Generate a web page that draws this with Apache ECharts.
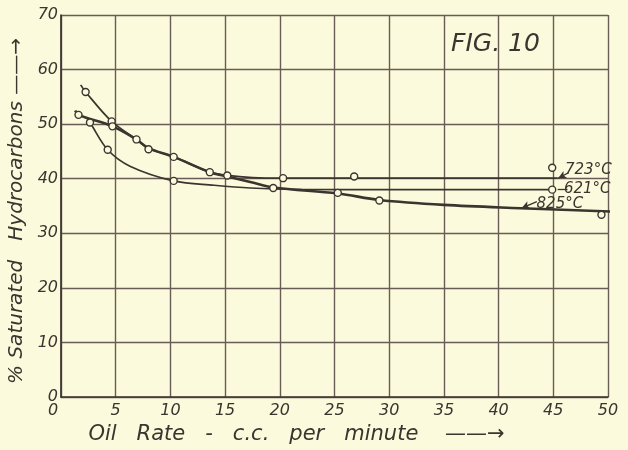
<!DOCTYPE html>
<html><head><meta charset="utf-8">
<script src="https://cdn.jsdelivr.net/npm/echarts@6/dist/echarts.min.js"></script>
<style>html,body{margin:0;padding:0;background:#fbfadc}#c{width:628px;height:450px}</style>
</head><body><div id="c"></div>
<script>
// ---- data ----
const xTickValues = [0,5,10,15,20,25,30,35,40,45,50];
const yTickValues = [0,10,20,30,40,50,60,70];
const seriesNames = ['723°C','621°C','825°C'];

const curve723 = [[1.8,57.2],[2.25,55.9],[4.63,50.5],[6.9,47.2],[8.0,45.6],[10.3,44.0],[13.6,41.2],[15.2,40.6],[17.5,40.2],[20.3,40.1],[30,40.1],[45.4,40.1]];
const points723 = [[2.25,55.9],[4.63,50.5],[6.9,47.2],[13.6,41.2],[20.3,40.1],[26.8,40.4],[44.9,42.0]];

const curve621 = [[2.4,50.9],[2.65,50.3],[4.27,45.3],[6.3,42.3],[10.3,39.6],[14,38.8],[17.3,38.3],[22,38.05],[30,38.0],[44.9,38.0]];
const points621 = [[2.65,50.3],[4.27,45.3],[10.3,39.6],[44.9,38.0]];

const curve825 = [[1.3,52.5],[1.6,51.7],[4.7,49.6],[6.9,47.2],[8.0,45.6],[10.3,44.0],[13.6,41.2],[15.2,40.4],[17.3,39.4],[19.4,38.4],[25.3,37.3],[29.1,36.1],[35,35.2],[42,34.6],[50.2,34.0]];
const points825 = [[1.6,51.7],[4.7,49.6],[8.0,45.4],[10.3,44.0],[15.2,40.6],[19.4,38.3],[25.3,37.4],[29.1,36.0],[49.4,33.4]];

// ---- styling ----
const ink = '#3b342f';
const gridInk = '#685d56';
const bg = '#fbfadc';
const font = 'DejaVu Sans';

function curveSeries(name, data, width, markPointCoord, markLineData, markLineSymbol) {
  return {
    name, type: 'line', data, smooth: 0.35, showSymbol: false, symbol: 'none',
    lineStyle: { color: ink, width }, z: 3, silent: true,
    markPoint: {
      symbol: 'circle', symbolSize: 0, silent: true,
      label: { show: true, position: 'inside', formatter: name, color: ink,
               fontFamily: font, fontStyle: 'italic', fontSize: 15 },
      data: [{ coord: markPointCoord }]
    },
    markLine: {
      silent: true, symbol: markLineSymbol, symbolSize: [6, 8],
      label: { show: false },
      lineStyle: { type: 'solid', color: ink, width: 1.3 },
      data: [markLineData]
    }
  };
}
function pointSeries(name, data) {
  return {
    name: name + ' pts', type: 'scatter', data, symbol: 'circle', symbolSize: 7,
    itemStyle: { color: bg, borderColor: ink, borderWidth: 1.4, opacity: 1 }, z: 5, silent: true
  };
}

const chart = echarts.init(document.getElementById('c'), null, { renderer: 'canvas' });
chart.setOption({
  backgroundColor: bg,
  animation: false,
  title: { text: 'FIG. 10', left: 446, top: 27,
           textStyle: { color: ink, fontFamily: font, fontStyle: 'italic', fontWeight: 'normal', fontSize: 25 } },
  grid: { left: 61, right: 20, top: 15, bottom: 53, containLabel: false, outerBoundsMode: 'none' },
  xAxis: {
    type: 'value', min: 0, max: 50, interval: 5,
    name: 'Oil   Rate   -   c.c.   per   minute    ——→', nameLocation: 'middle', nameGap: 27,
    nameTextStyle: { color: ink, fontFamily: font, fontStyle: 'italic', fontSize: 21, padding: [0, 76, 0, 0] },
    axisLine: { show: true, lineStyle: { color: ink, width: 1.7 } },
    axisTick: { show: false },
    splitLine: { show: true, lineStyle: { color: gridInk, width: 1.4 } },
    axisLabel: { color: ink, fontFamily: font, fontStyle: 'italic', fontSize: 16, margin: 6,
                 formatter: v => xTickValues.includes(v) ? (v === 0 ? '{z|0}' : String(v)) : '',
                 rich: { z: { padding: [0, 16, 0, 0], color: ink, fontFamily: font, fontStyle: 'italic', fontSize: 16 } } }
  },
  yAxis: {
    type: 'value', min: 0, max: 70, interval: 10,
    name: '% Saturated   Hydrocarbons ——→', nameLocation: 'middle', nameGap: 34, nameRotate: 90,
    nameTextStyle: { color: ink, fontFamily: font, fontStyle: 'italic', fontSize: 20, padding: [0, 10, 0, 0] },
    axisLine: { show: true, lineStyle: { color: ink, width: 1.7 } },
    axisTick: { show: false },
    splitLine: { show: true, lineStyle: { color: gridInk, width: 1.4 } },
    axisLabel: { color: ink, fontFamily: font, fontStyle: 'italic', fontSize: 16, margin: 3,
                 formatter: v => yTickValues.includes(v) ? String(v) : '' }
  },
  series: [
    curveSeries(seriesNames[0], curve723, 1.7, [48.2, 41.6], [{ coord: [45.45, 40.1] }, { coord: [46.4, 41.1] }], ['arrow', 'none']),
    curveSeries(seriesNames[1], curve621, 1.7, [48.1, 38.1], [{ coord: [45.4, 38.0] }, { coord: [46.3, 38.0] }], ['none', 'none']),
    curveSeries(seriesNames[2], curve825, 2.6, [45.6, 35.4], [{ coord: [42.1, 34.6] }, { coord: [43.5, 35.8] }], ['arrow', 'none']),
    pointSeries(seriesNames[0], points723),
    pointSeries(seriesNames[1], points621),
    pointSeries(seriesNames[2], points825)
  ]
});
</script></body></html>
